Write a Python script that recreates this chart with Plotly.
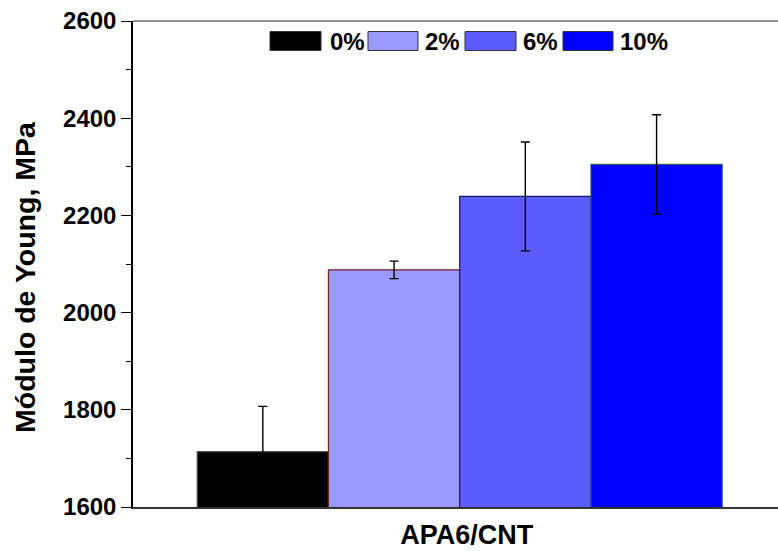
import plotly.graph_objects as go

# Young's modulus of APA6/CNT composites by CNT loading
category = ["APA6/CNT"]
loadings = ["0%", "2%", "6%", "10%"]
modulus = [1714, 2088, 2239, 2305]
modulus_err = [93, 18, 112, 102]

fill_colors = ["#000000", "#9999FF", "#5B5BFF", "#0000FF"]
edge_colors = ["#555555", "#7A1F2B", "#1A1A60", "#2F5F5F"]

FONT = "Arial, Liberation Sans, sans-serif"

fig = go.Figure()
for name, val, err, fc, ec in zip(loadings, modulus, modulus_err, fill_colors, edge_colors):
    fig.add_trace(go.Bar(
        x=category, y=[val], name=name,
        marker=dict(color=fc, line=dict(color=ec, width=1.2)),
        error_y=dict(type="data", array=[err], visible=True,
                     color="#000000", thickness=1.4, width=4.5),
        showlegend=False,
    ))

# Legend row drawn as wide swatches with bold labels
W, H = 778, 551
L, T, B = 133, 21, 507
swatch_x = [(270, 321), (368, 418), (465, 516), (563, 613)]
label_x = [328, 423, 521, 618]
for (x0, x1), lx, name, fc in zip(swatch_x, label_x, loadings, fill_colors):
    fig.add_shape(type="rect", xref="paper", yref="paper",
                  x0=(x0 - L) / (W - L), x1=(x1 - L) / (W - L),
                  y0=1 - (50.5 - T) / (B - T), y1=1 - (31.5 - T) / (B - T),
                  fillcolor=fc, line=dict(color="#333333", width=1))
    fig.add_annotation(xref="paper", yref="paper",
                       x=(lx - L) / (W - L), y=1 - (41.5 - T) / (B - T),
                       xanchor="left", yanchor="middle", showarrow=False,
                       text=f"<b>{name}</b>",
                       font=dict(family=FONT, size=24, color="black"))

# Gray frame line along the top of the plot area
fig.add_shape(type="line", xref="paper", yref="paper", x0=0, x1=1, y0=1, y1=1,
              line=dict(color="#6E6E6E", width=1.5))

# Y-axis title
fig.add_annotation(xref="paper", yref="paper",
                   x=(25 - L) / (W - L), y=1 - (277 - T) / (B - T),
                   xanchor="center", yanchor="middle", showarrow=False,
                   textangle=-90, text="<b>Módulo de Young, MPa</b>",
                   font=dict(family=FONT, size=28.5, color="black"))

fig.update_layout(
    width=W, height=H,
    margin=dict(l=L, r=0, t=T, b=H - B),
    paper_bgcolor="white", plot_bgcolor="white",
    barmode="group", bargap=0.186, bargroupgap=0,
    font=dict(family=FONT, color="black"),
    xaxis=dict(
        range=[-0.5065, 0.4935], automargin=False,
        showline=True, linecolor="#333333", linewidth=1.5,
        ticks="", showgrid=False, zeroline=False,
        tickfont=dict(family=FONT, size=27, color="black"),
        ticklabelstandoff=3, ticklabelshift=7,
        tickprefix="<b>", ticksuffix="</b>",
    ),
    yaxis=dict(
        range=[1600, 2600], dtick=200, automargin=False,
        showline=True, linecolor="black", linewidth=1.5,
        ticks="outside", ticklen=10, tickwidth=1.3, tickcolor="black",
        minor=dict(dtick=100, ticks="outside", ticklen=5, tickwidth=1.3, tickcolor="black"),
        showgrid=False, zeroline=False,
        tickfont=dict(family=FONT, size=24, color="black"),
        tickprefix="<b>", ticksuffix="</b>",
    ),
)

fig.write_html("out.html")
